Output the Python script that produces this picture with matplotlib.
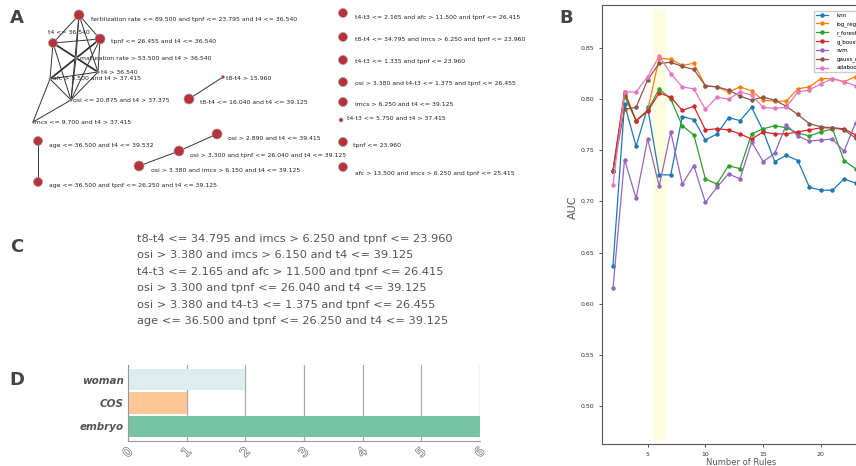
import matplotlib
matplotlib.use('Agg')
import matplotlib.pyplot as plt
import matplotlib.patheffects as pe

# ---- panel A: rule network (layout in figure pixels) ----
node_labels = [
    "fertilization rate <= 89.500 and tpnf <= 23.795 and t4 <= 36.540",
    "t4 <= 36.540",
    "tpnf <= 26.455 and t4 <= 36.540",
    "maturation rate > 53.500 and t4 > 36.540",
    "t4 > 36.540",
    "afc > 5.500 and t4 > 37.415",
    "osi <= 20.875 and t4 > 37.375",
    "imcs <= 9.700 and t4 > 37.415",
    "t8-t4 > 15.960",
    "t8-t4 <= 16.040 and t4 <= 39.125",
    "age <= 36.500 and t4 <= 39.532",
    "age <= 36.500 and tpnf <= 26.250 and t4 <= 39.125",
    "osi > 2.890 and t4 <= 39.415",
    "osi > 3.300 and tpnf <= 26.040 and t4 <= 39.125",
    "osi > 3.380 and imcs > 6.150 and t4 <= 39.125",
    "t4-t3 <= 2.165 and afc > 11.500 and tpnf <= 26.415",
    "t8-t4 <= 34.795 and imcs > 6.250 and tpnf <= 23.960",
    "t4-t3 <= 1.335 and tpnf <= 23.960",
    "osi > 3.380 and t4-t3 <= 1.375 and tpnf <= 26.455",
    "imcs > 6.250 and t4 <= 39.125",
    "t4-t3 <= 5.750 and t4 > 37.415",
    "tpnf <= 23.960",
    "afc > 13.500 and imcs > 6.250 and tpnf <= 25.415",
]
node_x = [79, 53, 100, 76, 98, 50, 71, 33, 223, 189, 38, 38, 217, 179, 139,
          343, 343, 343, 343, 343, 341, 343, 343]
node_y = [15, 43, 39, 58, 72, 79, 100, 122, 77, 99, 141, 182, 134, 151, 166,
          13, 37, 60, 82, 102, 120, 142, 167]
node_d = [10, 9, 10, 2.5, 2.5, 2, 2.5, 1.5, 3, 10, 9, 9, 10, 10, 10,
          9, 9, 9, 9, 9, 4, 9, 9]
label_x = [91, 48, 111, 80, 101, 53, 73, 33, 226, 200, 49, 49, 228, 190, 151,
           355, 355, 355, 355, 355, 347, 353, 355]
label_y = [19, 33, 42, 58, 72, 79, 100, 122, 78, 103, 145, 186, 138, 155, 170,
           17, 40, 62, 84, 104, 119, 146, 173]
edges = [(0, 1), (0, 2), (0, 3), (0, 4), (0, 6), (1, 2), (1, 3), (1, 4), (1, 5),
         (1, 6), (2, 3), (2, 4), (2, 5), (2, 6), (3, 4), (3, 5), (3, 6), (4, 5),
         (4, 6), (5, 6), (5, 7), (6, 7), (8, 9), (10, 11), (12, 13), (13, 14)]
thick_edges = [(1, 4), (2, 5)]

# ---- panel C: selected rules ----
selected_rules = [
    "t8-t4 <= 34.795 and imcs > 6.250 and tpnf <= 23.960",
    "osi > 3.380 and imcs > 6.150 and t4 <= 39.125",
    "t4-t3 <= 2.165 and afc > 11.500 and tpnf <= 26.415",
    "osi > 3.300 and tpnf <= 26.040 and t4 <= 39.125",
    "osi > 3.380 and t4-t3 <= 1.375 and tpnf <= 26.455",
    "age <= 36.500 and tpnf <= 26.250 and t4 <= 39.125",
]

# ---- panel B: AUC vs number of rules ----
n_rules = list(range(2, 24))
knn = [0.637, 0.795, 0.754, 0.792, 0.726, 0.726, 0.783, 0.780, 0.760, 0.766, 0.782,
       0.779, 0.792, 0.769, 0.739, 0.745, 0.740, 0.714, 0.711, 0.711, 0.722, 0.718]
log_reg = [0.730, 0.805, 0.779, 0.789, 0.840, 0.839, 0.833, 0.835, 0.813, 0.812, 0.807,
           0.812, 0.808, 0.799, 0.798, 0.798, 0.810, 0.812, 0.820, 0.820, 0.817, 0.822]
r_forest = [0.730, 0.803, 0.779, 0.789, 0.810, 0.800, 0.774, 0.765, 0.722, 0.717, 0.735,
            0.732, 0.766, 0.771, 0.774, 0.772, 0.767, 0.764, 0.768, 0.771, 0.740, 0.732]
g_boost = [0.730, 0.807, 0.779, 0.788, 0.806, 0.802, 0.789, 0.793, 0.770, 0.771, 0.770,
           0.766, 0.761, 0.768, 0.766, 0.766, 0.768, 0.770, 0.772, 0.772, 0.771, 0.765]
svm = [0.615, 0.741, 0.703, 0.761, 0.715, 0.768, 0.717, 0.735, 0.699, 0.714, 0.727,
       0.722, 0.758, 0.739, 0.747, 0.775, 0.764, 0.759, 0.760, 0.761, 0.749, 0.777]
gauss_nb = [0.730, 0.790, 0.792, 0.819, 0.835, 0.836, 0.832, 0.829, 0.813, 0.812, 0.809,
            0.803, 0.799, 0.802, 0.799, 0.793, 0.785, 0.776, 0.773, 0.772, 0.770, 0.762]
adaboost = [0.716, 0.807, 0.807, 0.822, 0.842, 0.825, 0.812, 0.810, 0.790, 0.802, 0.800,
            0.807, 0.804, 0.792, 0.791, 0.792, 0.807, 0.809, 0.815, 0.820, 0.817, 0.813]
model_names = ["knn", "log_reg", "r_forest", "g_boost", "svm", "gauss_nb", "adaboost"]
model_scores = [knn, log_reg, r_forest, g_boost, svm, gauss_nb, adaboost]
best_n = 6

# ---- panel D: rule categories ----
categories = ["woman", "COS", "embryo"]
counts = [2, 1, 6]
cat_colors = ["#dcecef", "#fdc797", "#76c4a1"]

W, H = 856, 466
fig = plt.figure(figsize=(W / 100, H / 100), dpi=100)

ax0 = fig.add_axes([0, 0, 1, 1])
ax0.set_xlim(0, W)
ax0.set_ylim(H, 0)
ax0.axis('off')

for i, j in edges:
    lw = 1.2 if (i, j) in thick_edges else 0.7
    ax0.plot([node_x[i], node_x[j]], [node_y[i], node_y[j]], color='#333333', lw=lw, zorder=1)
sizes = [(d * 0.72) ** 2 for d in node_d]
ax0.scatter(node_x, node_y, s=sizes, c='#b9323a', edgecolors='#a0a0a0', linewidths=0.5, zorder=2)
for lx, ly, lab in zip(label_x, label_y, node_labels):
    ax0.text(lx, ly, lab, fontsize=4.4, va='center', ha='left', color='#222222', zorder=3)

for k, rule in enumerate(selected_rules):
    ax0.text(137, 239 + k * 16.4, rule, fontsize=8.2, va='center', ha='left', color='#555555')

for letter, (px, py) in zip("ABCD", [(17, 18), (566, 18), (17, 247), (17, 380)]):
    ax0.text(px, py, letter, fontsize=13, fontweight='bold', color='#444444',
             ha='center', va='center')

# panel B
axB = fig.add_axes([602 / W, 22 / H, 279 / W, 439 / H])
axB.axvspan(best_n - 0.5, best_n + 0.5, ymin=0.011, ymax=0.991, color='#fffde0', zorder=0)
for name, scores in zip(model_names, model_scores):
    axB.plot(n_rules, scores, marker='o', markersize=2.2, lw=0.9, label=name)
axB.set_xlim(1.05, 25.2)
axB.set_ylim(0.463, 0.892)
axB.set_yticks([0.50, 0.55, 0.60, 0.65, 0.70, 0.75, 0.80, 0.85])
axB.set_xticks([5, 10, 15, 20])
axB.tick_params(labelsize=4.5, length=2, width=0.6, colors='#333333')
for s in axB.spines.values():
    s.set_color('#555555')
    s.set_linewidth(0.8)
axB.set_ylabel("AUC", fontsize=8, color='#555555')
axB.yaxis.set_label_coords(-0.085, 0.54)
axB.set_xlabel("Number of Rules", fontsize=6, color='#555555', labelpad=1)
axB.legend(loc='upper left', bbox_to_anchor=(811 / W, 1 - 8 / H), bbox_transform=fig.transFigure,
           fontsize=4.0, handlelength=2.2, handletextpad=1.5, labelspacing=0.6, borderpad=0.35,
           framealpha=1, edgecolor='#cccccc', fancybox=False)

# panel D
axD = fig.add_axes([128 / W, 25 / H, 352 / W, 76 / H])
ypos = [2, 1, 0]
axD.barh(ypos, counts, height=0.9, color=cat_colors, zorder=2)
axD.set_ylim(-0.62, 2.62)
axD.set_xlim(0, 6)
axD.set_yticks(ypos)
axD.set_yticklabels(categories, fontsize=7.5, style='italic', fontweight='bold', color='#555555')
axD.set_xticks(range(7))
axD.set_xticklabels([str(v) for v in range(7)], rotation=45, fontsize=9, color='white',
                    path_effects=[pe.withStroke(linewidth=1.0, foreground='#777777')])
axD.grid(axis='x', color='#aaaaaa', lw=0.9, zorder=0)
axD.tick_params(length=0, pad=3)
for side in ['top', 'right']:
    axD.spines[side].set_visible(False)
for side in ['left', 'bottom']:
    axD.spines[side].set_color('#999999')

fig.savefig('out.png', dpi=100)
